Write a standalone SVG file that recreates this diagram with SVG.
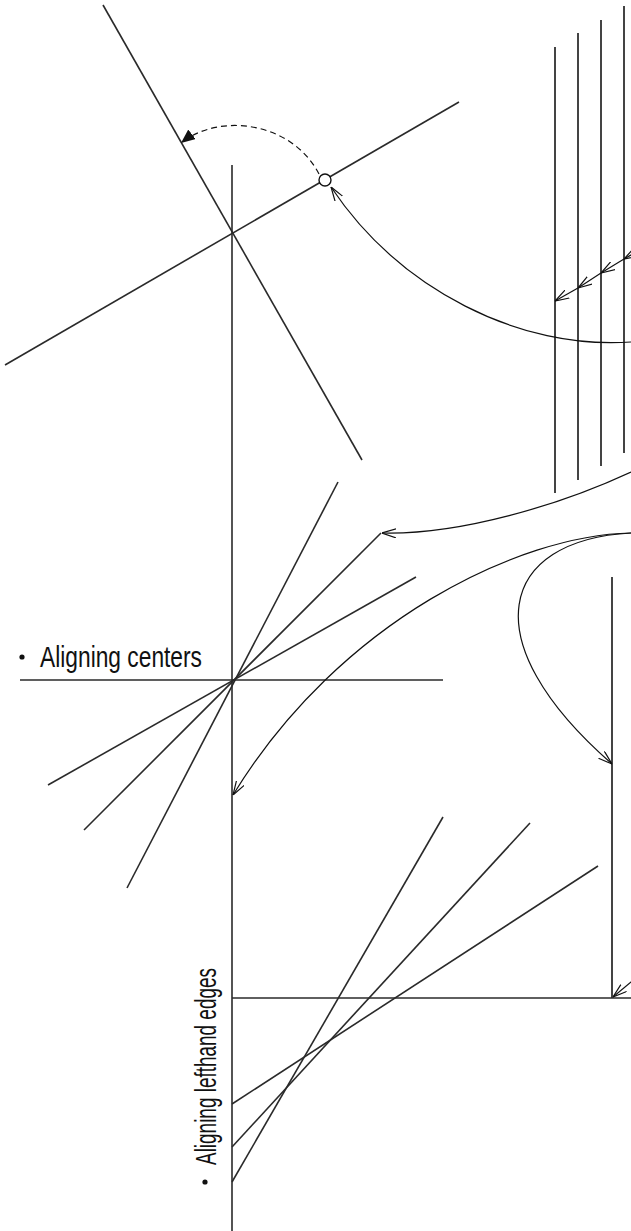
<svg xmlns="http://www.w3.org/2000/svg" width="631" height="1231" viewBox="0 0 631 1231">
<style>
.ln{stroke:#2a2a2a;stroke-width:1.6;fill:none;stroke-linecap:butt}
.gl{stroke:#444;stroke-width:2;fill:none}
.cv{stroke:#111;stroke-width:1.2;fill:none}
.ar{marker-end:url(#open)}
.lbl{font-family:"Liberation Sans",Arial,sans-serif;font-size:30px;fill:#111}
</style>
<defs>
<marker id="open" viewBox="0 0 14 10" refX="14" refY="5" markerWidth="14" markerHeight="10" markerUnits="userSpaceOnUse" orient="auto">
<path d="M0,0.5 L14,5 L0,9.5" fill="none" stroke="#111" stroke-width="1.2"/>
</marker>
<marker id="solid" viewBox="0 0 14 12" refX="14" refY="6" markerWidth="14" markerHeight="12" markerUnits="userSpaceOnUse" orient="auto">
<path d="M0,0 L14,6 L0,12 Z" fill="#111"/>
</marker>
</defs>
<g id="construction-top">
<line class="ln" x1="103" y1="5" x2="362" y2="460"/>
<line class="ln" x1="5" y1="365" x2="459" y2="102"/>
</g>
<g id="main-vertical">
<line class="ln" x1="232" y1="165" x2="232" y2="1231"/>
</g>
<g id="parallel-lines">
<line class="gl" x1="555" y1="47" x2="555" y2="493"/>
<line class="gl" x1="578" y1="33" x2="578" y2="480"/>
<line class="gl" x1="601" y1="20" x2="601" y2="466"/>
<line class="gl" x1="624" y1="6" x2="624" y2="453"/>
</g>
<g id="center-fan">
<line class="ln" x1="20" y1="680" x2="443" y2="680"/>
<line class="ln" x1="338" y1="482" x2="127" y2="888"/>
<line class="ln" x1="381" y1="533" x2="84" y2="830"/>
<line class="ln" x1="416" y1="577" x2="48" y2="785"/>
</g>
<g id="corner-right">
<line class="gl" x1="612" y1="577" x2="612" y2="998"/>
<line class="ln" x1="232" y1="998" x2="631" y2="998"/>
</g>
<g id="edge-lines">
<line class="ln" x1="443" y1="817" x2="232" y2="1182"/>
<line class="ln" x1="530" y1="823" x2="232" y2="1147"/>
<line class="ln" x1="598" y1="866" x2="232" y2="1104"/>
</g>
<g id="pivot">
<circle cx="325" cy="180" r="6" fill="#fff" stroke="#111" stroke-width="1.4"/>
</g>
<g id="connectors">
<path class="cv" d="M319,174 C292,122 220,112 181,143" stroke-dasharray="6,4" marker-end="url(#solid)"/>
<path class="cv ar" d="M631,342 C520,350 400,290 331,187"/>
<path class="cv ar" d="M640,250 L624,259"/>
<path class="cv ar" d="M624,259 L601,273"/>
<path class="cv ar" d="M601,273 L578,288"/>
<path class="cv ar" d="M578,288 L555,301"/>
<path class="cv ar" d="M631,472 C560,505 460,535 382,533"/>
<path class="cv ar" d="M631,533 C520,535 340,620 233,795"/>
<path class="cv ar" d="M631,533 C500,540 470,640 612,764"/>
<path class="cv ar" d="M650,966 L613,997"/>
</g>
<g id="labels">
<circle cx="22" cy="657" r="2.6" fill="#111"/>
<text class="lbl" x="40" y="667" textLength="162" lengthAdjust="spacingAndGlyphs">Aligning centers</text>
<circle cx="205" cy="1182" r="2.6" fill="#111"/>
<text class="lbl" transform="translate(216,1165) rotate(-90)" x="0" y="0" textLength="197" lengthAdjust="spacingAndGlyphs">Aligning lefthand edges</text>
</g>
</svg>
